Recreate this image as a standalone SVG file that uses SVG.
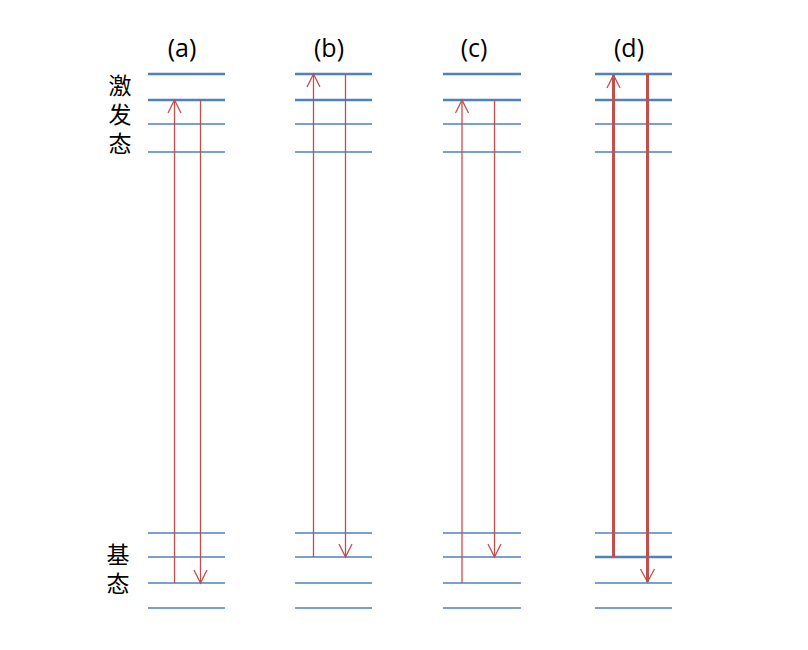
<svg xmlns="http://www.w3.org/2000/svg" width="808" height="650" viewBox="0 0 808 650">
<style>
.t{font-family:"Open Sans","Liberation Sans",sans-serif;font-size:25px;fill:#000;text-anchor:middle}
.c{font-family:"Noto Sans CJK SC",sans-serif;font-size:23px;fill:#000;text-anchor:start;writing-mode:vertical-rl;letter-spacing:6px}
.lv{stroke:#4f81bd;stroke-width:1.3;fill:none}
.lk{stroke:#4f81bd;stroke-width:2.5;fill:none}
.ar{stroke:#c0504d;stroke-width:1.3;fill:none}
.ak{stroke:#c0504d;stroke-width:3;fill:none}
</style>
<rect width="808" height="650" fill="#fff"/>
<g id="labels">
<text class="c" x="120" y="74">激发态</text>
<text class="c" x="118" y="543">基态</text>
</g>
<g id="panel-a">
<text class="t" x="182" y="57">(a)</text>
<line class="lk" x1="148" y1="74" x2="225" y2="74"/>
<line class="lk" x1="148" y1="100" x2="225" y2="100"/>
<line class="lv" x1="148" y1="124" x2="225" y2="124"/>
<line class="lv" x1="148" y1="152" x2="225" y2="152"/>
<line class="lv" x1="148" y1="533" x2="225" y2="533"/>
<line class="lv" x1="148" y1="557" x2="225" y2="557"/>
<line class="lv" x1="148" y1="583" x2="225" y2="583"/>
<line class="lv" x1="148" y1="608" x2="225" y2="608"/>
</g>
<g id="panel-b">
<text class="t" x="329" y="57">(b)</text>
<line class="lk" x1="295" y1="74" x2="372" y2="74"/>
<line class="lk" x1="295" y1="100" x2="372" y2="100"/>
<line class="lv" x1="295" y1="124" x2="372" y2="124"/>
<line class="lv" x1="295" y1="152" x2="372" y2="152"/>
<line class="lv" x1="295" y1="533" x2="372" y2="533"/>
<line class="lv" x1="295" y1="557" x2="372" y2="557"/>
<line class="lv" x1="295" y1="583" x2="372" y2="583"/>
<line class="lv" x1="295" y1="608" x2="372" y2="608"/>
</g>
<g id="panel-c">
<text class="t" x="474" y="57">(c)</text>
<line class="lk" x1="443" y1="74" x2="521" y2="74"/>
<line class="lk" x1="443" y1="100" x2="521" y2="100"/>
<line class="lv" x1="443" y1="124" x2="521" y2="124"/>
<line class="lv" x1="443" y1="152" x2="521" y2="152"/>
<line class="lv" x1="443" y1="533" x2="521" y2="533"/>
<line class="lv" x1="443" y1="557" x2="521" y2="557"/>
<line class="lv" x1="443" y1="583" x2="521" y2="583"/>
<line class="lv" x1="443" y1="608" x2="521" y2="608"/>
</g>
<g id="panel-d">
<text class="t" x="629" y="57">(d)</text>
<line class="lk" x1="595" y1="74" x2="672" y2="74"/>
<line class="lk" x1="595" y1="100" x2="672" y2="100"/>
<line class="lv" x1="595" y1="124" x2="672" y2="124"/>
<line class="lv" x1="595" y1="152" x2="672" y2="152"/>
<line class="lv" x1="595" y1="533" x2="672" y2="533"/>
<line class="lk" x1="595" y1="557" x2="672" y2="557"/>
<line class="lv" x1="595" y1="583" x2="672" y2="583"/>
<line class="lv" x1="595" y1="608" x2="672" y2="608"/>
</g>
<g id="connectors">
<line class="ar" x1="174.5" y1="583" x2="174.5" y2="100"/>
<polyline class="ar" points="168,113 174.5,100 181,113"/>
<line class="ar" x1="200.5" y1="100" x2="200.5" y2="583"/>
<polyline class="ar" points="194,570 200.5,583 207,570"/>
<line class="ar" x1="313.5" y1="557" x2="313.5" y2="74"/>
<polyline class="ar" points="307,87 313.5,74 320,87"/>
<line class="ar" x1="345.5" y1="74" x2="345.5" y2="557"/>
<polyline class="ar" points="339,544 345.5,557 352,544"/>
<line class="ar" x1="462" y1="583" x2="462" y2="100"/>
<polyline class="ar" points="455.5,113 462,100 468.5,113"/>
<line class="ar" x1="494.5" y1="100" x2="494.5" y2="557"/>
<polyline class="ar" points="488,544 494.5,557 501,544"/>
<line class="ak" x1="613.5" y1="557" x2="613.5" y2="75"/>
<polyline class="ar" points="607,88 613.5,75 620,88"/>
<line class="ak" x1="647.5" y1="74" x2="647.5" y2="582"/>
<polyline class="ar" points="640.5,569 647.5,582 654.5,569"/>
</g>
</svg>
